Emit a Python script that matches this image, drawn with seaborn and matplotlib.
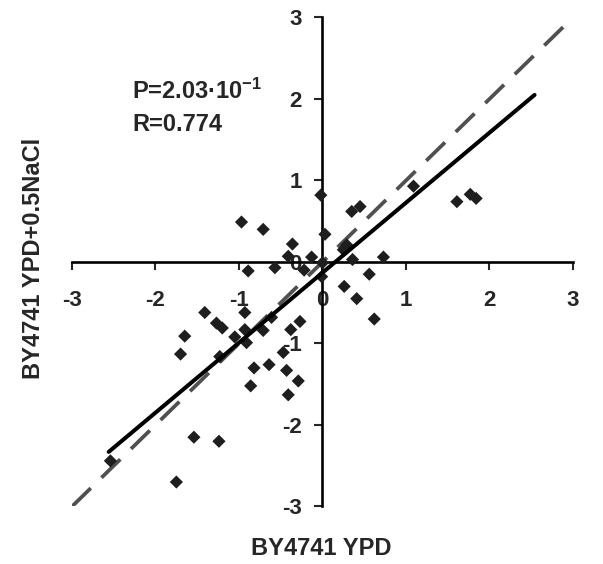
import matplotlib
matplotlib.use("Agg")
import matplotlib.pyplot as plt
import seaborn as sns
import pandas as pd

# log ratios
ypd = [-1.41, -0.93, -1.27, -1.20, -1.65, -1.05, -0.93, -0.71, -0.91, -1.70,
       -1.23, -0.27, -0.38, -0.47, -0.64, -0.82, -0.43, -0.29, -0.86, -0.41,
       -1.54, -1.24, -0.61, -1.75, -2.54, -0.97, -0.71, -0.36, -0.41, -0.13,
       -0.89, -0.57, -0.22, 0.03, -0.01, -0.02, 0.35, 0.45, 0.00, 0.29,
       0.25, 0.36, 0.73, 0.56, 0.26, 0.41, 0.62, 1.09, 1.61, 1.77, 1.84]
nacl = [-0.62, -0.62, -0.75, -0.81, -0.91, -0.92, -0.83, -0.84, -0.99, -1.13,
        -1.16, -0.73, -0.83, -1.11, -1.26, -1.30, -1.33, -1.46, -1.52, -1.63,
        -2.15, -2.20, -0.68, -2.70, -2.44, 0.49, 0.40, 0.22, 0.07, 0.06,
        -0.11, -0.07, -0.10, 0.34, -0.18, 0.82, 0.62, 0.68, -0.01, 0.21,
        0.15, 0.03, 0.06, -0.15, -0.30, -0.45, -0.70, 0.93, 0.74, 0.83, 0.78]

# regression line end points and the y = x diagonal
fit_x = [-2.56, 2.54]
fit_y = [-2.33, 2.05]
diag_x = [-3, 3]
diag_y = [-3, 3]
ticks = [-3, -2, -1, 0, 1, 2, 3]

df = pd.DataFrame({"ypd": ypd, "nacl": nacl})

sns.set_style("white")
plt.rcParams["font.family"] = ["Liberation Sans", "DejaVu Sans"]
plt.rcParams["font.weight"] = "bold"
plt.rcParams["mathtext.fontset"] = "custom"
plt.rcParams["mathtext.rm"] = "Liberation Sans:bold"
plt.rcParams["mathtext.default"] = "rm"

fig = plt.figure(figsize=(6.03, 5.64), dpi=100)
ax = fig.add_axes([0.1194, 0.102, 0.8308, 0.867])

sns.lineplot(x=diag_x, y=diag_y, ax=ax, color="#505050", linewidth=2.7,
             linestyle=(0, (7, 4)), sort=False, estimator=None)
sns.scatterplot(data=df, x="ypd", y="nacl", ax=ax, marker="D", s=45,
                color="#1e1e1e", edgecolor="none", zorder=3)
sns.lineplot(x=fit_x, y=fit_y, ax=ax, color="black", linewidth=2.9,
             sort=False, estimator=None, zorder=4)

ax.set_xlim(-3, 3)
ax.set_ylim(-3, 3)
ax.set_xticks(ticks)
ax.set_yticks(ticks)
ax.set_xticklabels([str(t) for t in ticks])
ax.set_yticklabels([str(t) for t in ticks])

# axes crossing at the origin
for side in ["top", "right"]:
    ax.spines[side].set_visible(False)
for side in ["left", "bottom"]:
    ax.spines[side].set_position(("data", 0))
    ax.spines[side].set_linewidth(1.9)
    ax.spines[side].set_color("black")

ax.tick_params(axis="x", direction="out", length=6, width=1.5, pad=14,
               labelsize=16, bottom=True)
ax.tick_params(axis="y", direction="out", length=6, width=1.5, pad=9,
               labelsize=16, left=True)

ax.set_xlabel("")
ax.set_ylabel("")
fig.text(0.533, 0.028, "BY4741 YPD", ha="center", va="center",
         fontsize=17, fontweight="bold")
fig.text(0.056, 0.541, "BY4741 YPD+0.5NaCl", ha="center", va="center",
         rotation=90, fontsize=17, fontweight="bold")

ax.text(-2.28, 2.0, "P=2.03·10$^{-1}$", fontsize=17, fontweight="bold",
        ha="left", va="baseline")
ax.text(-2.28, 1.61, "R=0.774", fontsize=17, fontweight="bold",
        ha="left", va="baseline")

fig.savefig("out.png", dpi=100)
